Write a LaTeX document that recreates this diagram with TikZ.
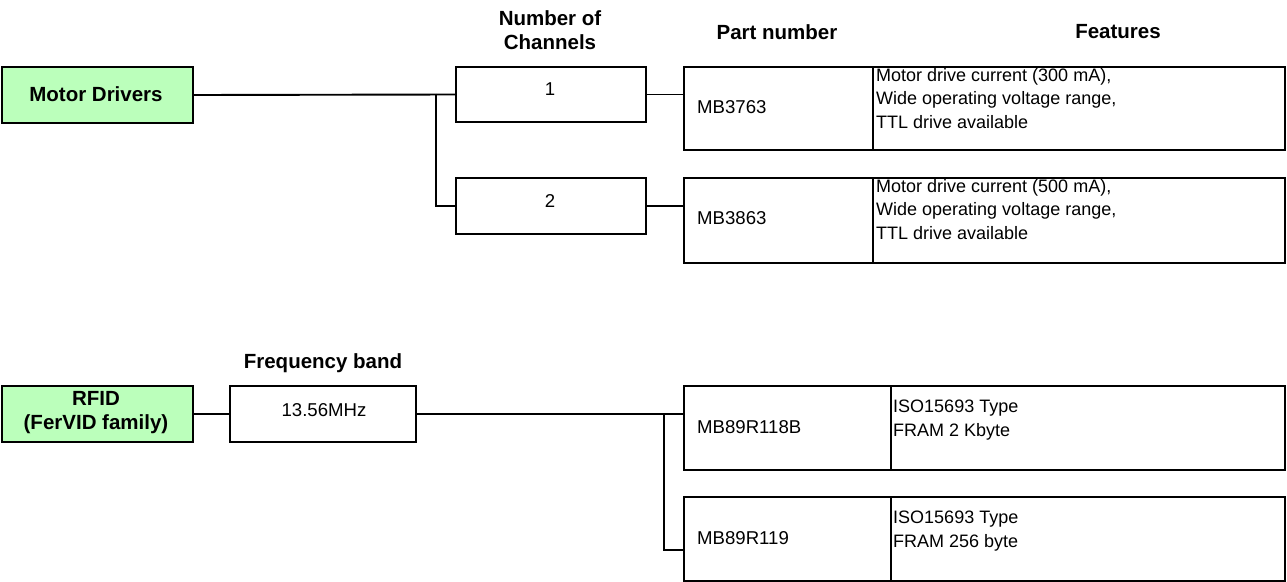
\documentclass[tikz,border=0pt]{standalone}
\usepackage{fontspec}
\setmainfont{Liberation Sans}
\begin{document}
\begin{tikzpicture}[x=1pt,y=-1pt,
  box/.style={draw=black,line width=2pt,inner sep=0pt,anchor=north west},
  cat/.style={box,fill=catgreen},
  bld/.style={font=\fontsize{20.5}{24}\selectfont\bfseries,align=center,inner sep=0pt},
  conn/.style={draw=black,line width=1.9pt},
  hdr/.style={font=\fontsize{20.5}{24}\selectfont\bfseries,align=center,inner sep=0pt},
  txt/.style={font=\fontsize{18.6}{23.5}\selectfont,align=left,inner sep=0pt},
  ftxt/.style={font=\fontsize{18}{23.5}\selectfont,align=left,inner sep=0pt,anchor=north west}]
\definecolor{catgreen}{RGB}{187,255,187}
\useasboundingbox (0,0) rectangle (1287,581);
% headers
\node[hdr] (hch) at (550,30) {Number of\\Channels};
\node[hdr] (hpn) at (777,32) {Part number};
\node[hdr] (hft) at (1118,32) {Features};
% Motor drivers
\node[cat,minimum width=191pt,minimum height=56pt] (md) at (1,66) {};
\node[bld] (mdt) at (96,94) {Motor Drivers};
\node[box,minimum width=190pt,minimum height=55pt] (ch1) at (455,66) {};
\node[txt] (ch1t) at (550,89) {1};
\node[box,minimum width=190pt,minimum height=56pt] (ch2) at (455,177) {};
\node[txt] (ch2t) at (550,201) {2};
\node[box,minimum width=189pt,minimum height=83pt] (p1) at (683,66) {};
\node[txt,anchor=west] (p1t) at (697,107) {MB3763};
\node[box,minimum width=412pt,minimum height=83pt] (f1) at (872,66) {};
\node[ftxt] (f1t) at (876,68) {Motor drive current (300 mA),\\Wide operating voltage range,\\TTL drive available};
\node[box,minimum width=189pt,minimum height=85pt] (p2) at (683,177) {};
\node[txt,anchor=west] (p2t) at (697,218) {MB3863};
\node[box,minimum width=412pt,minimum height=85pt] (f2) at (872,177) {};
\node[ftxt] (f2t) at (876,179) {Motor drive current (500 mA),\\Wide operating voltage range,\\TTL drive available};
\coordinate (j1) at (436,93.5);
\draw[conn] (md.east) -- (ch1.west);
\draw[conn] (j1) |- (ch2.west);
\draw[conn] (ch1.east) -- (ch1.east -| p1.west);
\draw[conn] (ch2.east) -- (ch2.east -| p2.west);
% RFID
\node[hdr] (hfb) at (323,363) {Frequency band};
\node[cat,minimum width=191pt,minimum height=56pt] (rf) at (1,385) {};
\node[bld] (rft) at (96,413) {RFID\\(FerVID family)};
\node[box,minimum width=186pt,minimum height=56pt] (fb) at (229,385) {};
\node[txt] (fbt) at (324,410) {13.56MHz};
\node[box,minimum width=207pt,minimum height=84pt] (p3) at (683,385) {};
\node[txt,anchor=west] (p3t) at (697,427) {MB89R118B};
\node[box,minimum width=394pt,minimum height=84pt] (f3) at (890,385) {};
\node[ftxt] (f3t) at (893,400) {ISO15693 Type\\FRAM 2 Kbyte};
\node[box,minimum width=207pt,minimum height=84pt] (p4) at (683,496) {};
\node[txt,anchor=west] (p4t) at (697,538) {MB89R119};
\node[box,minimum width=394pt,minimum height=84pt] (f4) at (890,496) {};
\node[ftxt] (f4t) at (893,511) {ISO15693 Type\\FRAM 256 byte};
\coordinate (j2) at (664,413);
\draw[conn] (rf.east) -- (fb.west);
\draw[conn] (fb.east) -- (fb.east -| p3.west);
\draw[conn] (j2) |- (p4.west |- 0,550);
\end{tikzpicture}
\end{document}
